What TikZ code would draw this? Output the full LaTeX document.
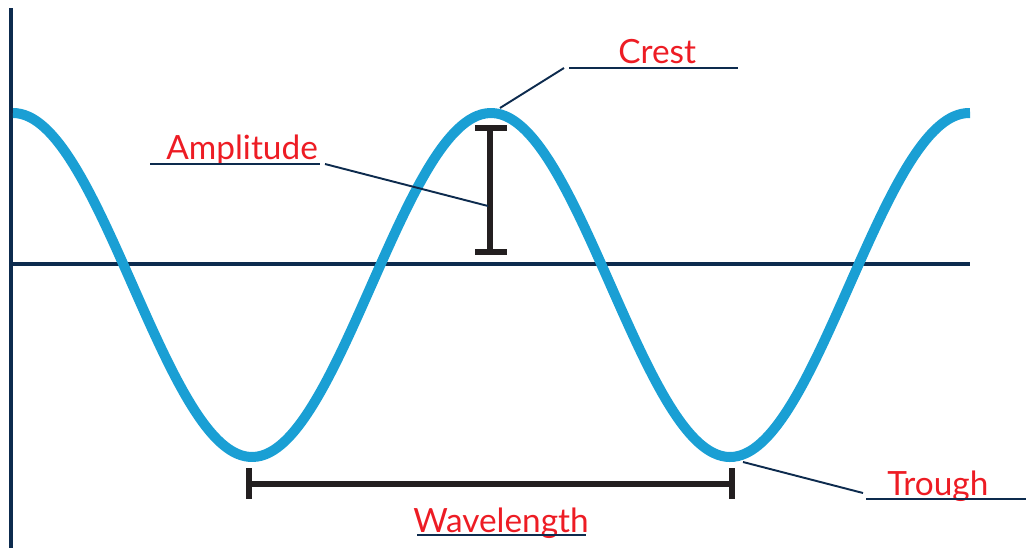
\documentclass[tikz,border=0pt]{standalone}
\usepackage{fontspec}
\setmainfont{Lato}
\definecolor{navy}{HTML}{0D2B4E}
\definecolor{wave}{HTML}{1A9FD4}
\definecolor{ink}{HTML}{231F20}
\definecolor{lblred}{HTML}{ED1C24}
\begin{document}
\begin{tikzpicture}[x=0.02cm, y=-0.02cm,
  axis/.style={navy, line width=2.3pt},
  leader/.style={navy, line width=1.1pt},
  bar/.style={ink, line width=3.8pt},
  lbl/.style={text=lblred, font=\fontsize{19}{21}\selectfont, inner sep=0pt, anchor=base west}]
\useasboundingbox (0,0) rectangle (1026,548);
% axes
\draw[axis] (11,8) -- (11,548);
\draw[axis] (11,264) -- (970,264);
% wave
\draw[wave, line width=5.7pt] plot[domain=13:970, samples=240, smooth] (\x, {285-172*cos(0.75314*(\x-13))});
% amplitude and wavelength bars
\draw[bar] (490,128) -- (490,252);
\foreach \y in {128,252} \draw[bar] (475,\y) -- (507,\y);
\draw[bar] (249,484) -- (732,484);
\foreach \x in {249,732} \draw[bar] (\x,468) -- (\x,499);
% labels
\node[lbl] (amp) at (166,159) {Amplitude};
\node[lbl] (crest) at (618,63) {Crest};
\node[lbl] (trough) at (887,495) {Trough};
\node[lbl] (wl) at (413,532) {Wavelength};
% underlines
\draw[leader] (150,164) -- (320,164);
\draw[leader] (569,68) -- (738,68);
\draw[leader] (866,499) -- (1026,499);
\draw[leader] (417,535) -- (586,535);
% leader lines
\coordinate (ampend) at (488,206);
\coordinate (crestend) at (500,108);
\coordinate (troughend) at (743,462);
\draw[leader] (325,164) -- (ampend);
\draw[leader] (564,68) -- (crestend);
\draw[leader] (863,493) -- (troughend);
\end{tikzpicture}
\end{document}
